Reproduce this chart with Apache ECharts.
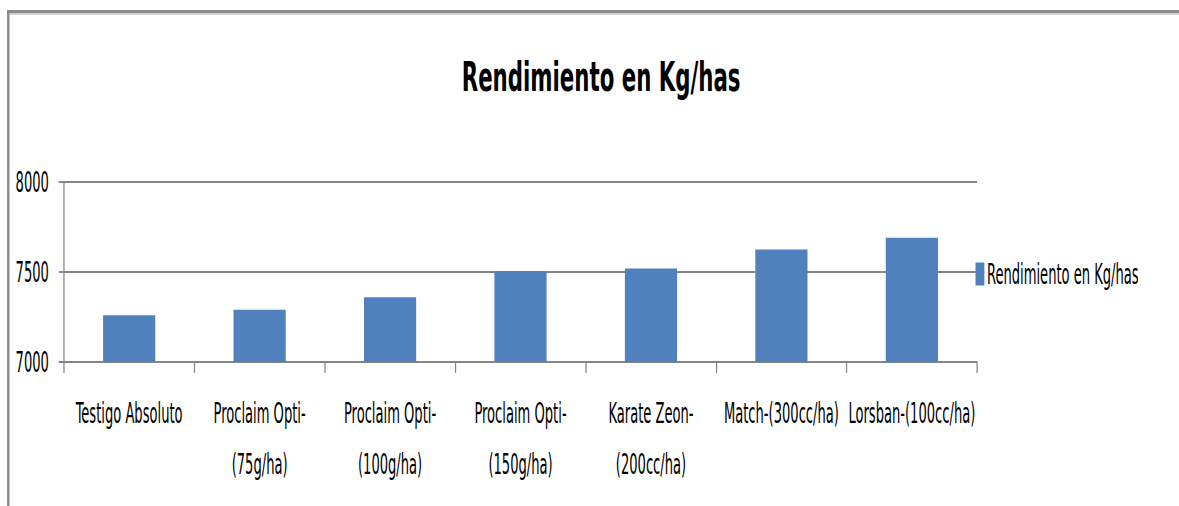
<!DOCTYPE html>
<html>
<head>
<meta charset="utf-8">
<script src="https://cdn.jsdelivr.net/npm/echarts@6/dist/echarts.min.js"></script>
<style>
  html, body { margin: 0; padding: 0; background: #fff; overflow: hidden; }
  /* the source picture is squeezed horizontally, so the chart is laid out wide and squeezed back */
  #chart { width: 2268px; height: 506px; transform: scaleX(0.52); transform-origin: 0 0; }
</style>
</head>
<body>
<div id="chart"></div>
<script>
const categories = [
    'Testigo Absoluto',
    'Proclaim Opti-\n(75g/ha)',
    'Proclaim Opti-\n(100g/ha)',
    'Proclaim Opti-\n(150g/ha)',
    'Karate Zeon-\n(200cc/ha)',
    'Match-(300cc/ha)',
    'Lorsban-(100cc/ha)'
]
const yieldValues = [7260, 7290, 7360, 7505, 7520, 7625, 7690]
const seriesName = 'Rendimiento en Kg/has'
const yTicks = { min: 7000, max: 8000, interval: 500 }

const narrow = "'Liberation Sans Narrow', 'DejaVu Sans Condensed', sans-serif"
const gray = '#858585'

const chart = echarts.init(document.getElementById('chart'), null, { renderer: 'svg' })

chart.setOption({
    backgroundColor: '#fff',
    animation: false,
    title: {
        text: 'Rendimiento en Kg/has',
        left: 1151,
        top: 52,
        textAlign: 'center',
        textStyle: {
            fontFamily: "'DejaVu Sans', sans-serif",
            fontWeight: 'bold',
            fontSize: 41,
            color: '#000'
        }
    },
    legend: {
        left: 1871,
        top: 255,
        itemWidth: 17,
        itemHeight: 23,
        icon: 'rect',
        textStyle: {
            fontFamily: narrow,
            fontSize: 28,
            color: '#000'
        },
        data: [seriesName]
    },
    grid: {
        left: 123,
        right: 389,
        top: 182,
        bottom: 144
    },
    xAxis: {
        type: 'category',
        data: categories,
        axisLine: {
            lineStyle: { color: gray, width: 2 }
        },
        axisTick: {
            show: true,
            interval: 0,
            length: 11,
            lineStyle: { color: gray, width: 2.4 }
        },
        axisLabel: {
            interval: 0,
            margin: 25,
            fontFamily: narrow,
            fontSize: 28,
            lineHeight: 51,
            color: '#000'
        }
    },
    yAxis: {
        type: 'value',
        min: yTicks.min,
        max: yTicks.max,
        interval: yTicks.interval,
        axisLine: {
            show: true,
            lineStyle: { color: gray, width: 2.4 }
        },
        axisTick: {
            show: true,
            length: 10,
            lineStyle: { color: gray, width: 2 }
        },
        axisLabel: {
            margin: 29,
            fontFamily: narrow,
            fontSize: 28,
            color: '#000',
            formatter: function (value) {
                return String(value)
            }
        },
        splitLine: {
            show: true,
            lineStyle: { color: gray, width: 2 }
        }
    },
    series: [
        {
            name: seriesName,
            type: 'bar',
            barWidth: '40%',
            itemStyle: {
                color: '#4f81bd'
            },
            data: yieldValues
        }
    ],
    // frame of the original picture (top and left edges)
    graphic: [
        { type: 'rect', shape: { x: 13.5, y: 10, width: 2268, height: 3.5 }, style: { fill: '#8c8c8c' } },
        { type: 'rect', shape: { x: 13.5, y: 13.5, width: 2268, height: 1.5 }, style: { fill: '#d6d6d6' } },
        { type: 'rect', shape: { x: 13.5, y: 10, width: 4.8, height: 496 }, style: { fill: '#8c8c8c' } }
    ]
})
</script>
</body>
</html>
